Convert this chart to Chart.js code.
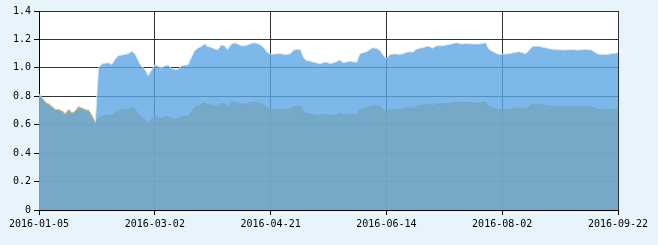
<!DOCTYPE html>
<html>
<head>
<meta charset="utf-8">
<script src="https://cdn.jsdelivr.net/npm/chart.js@4"></script>
<style>
  body { margin: 0; background: #e8f4fc; }
  canvas { display: block; }
</style>
</head>
<body>
<canvas id="navChart" width="658" height="245"></canvas>
<script>
// Trading-day holidays (incl. 2016-01-07, trading halted)
const holidays = ['2016-01-07', '2016-02-08', '2016-02-09', '2016-02-10', '2016-02-11', '2016-02-12',
    '2016-04-04', '2016-05-02', '2016-06-09', '2016-06-10', '2016-09-15', '2016-09-16'];

// Tick labels shown on the x axis
const tickDates = ['2016-01-05', '2016-03-02', '2016-04-21', '2016-06-14', '2016-08-02', '2016-09-22'];
const yTicks = [0, 0.2, 0.4, 0.6, 0.8, 1, 1.2, 1.4];

// Upper series (light blue)
const seriesTop = [
    0.81, 0.78, 0.75, 0.74, 0.72, 0.70, 0.70, 0.69, 0.67, 0.70, 0.675, 0.69, 0.72, 0.71, 0.70, 0.695, 0.655, 0.61,
    1.00, 1.027, 1.033, 1.036, 1.025, 1.06, 1.085, 1.09, 1.095, 1.10, 1.117, 1.10,
    1.05, 1.01, 0.99, 0.945, 0.985, 1.02, 1.013, 0.997, 1.015, 1.02, 0.997, 0.99, 0.99, 1.013, 1.02, 1.02,
    1.07, 1.12, 1.14, 1.15, 1.168, 1.15, 1.145, 1.135, 1.126, 1.16, 1.157, 1.13, 1.165, 1.177, 1.168, 1.157,
    1.155, 1.16, 1.17, 1.177, 1.172, 1.16, 1.14, 1.11,
    1.095, 1.097, 1.10, 1.10, 1.095, 1.095, 1.10, 1.126, 1.13, 1.13, 1.07, 1.05, 1.048, 1.04, 1.035, 1.027,
    1.04, 1.04, 1.03, 1.036, 1.045, 1.055, 1.036, 1.042, 1.048, 1.043, 1.039,
    1.10, 1.107, 1.114, 1.13, 1.142, 1.136, 1.125, 1.09, 1.067, 1.093, 1.098, 1.098, 1.095, 1.10, 1.11, 1.113,
    1.11, 1.13, 1.138, 1.142, 1.15, 1.152, 1.138, 1.155, 1.156, 1.156, 1.16, 1.165, 1.17, 1.177, 1.172, 1.168,
    1.172, 1.17, 1.168, 1.168, 1.168, 1.172, 1.177,
    1.13, 1.117, 1.105, 1.095, 1.097, 1.098, 1.10, 1.105, 1.11, 1.114, 1.108, 1.10, 1.12, 1.149, 1.153, 1.152,
    1.146, 1.143, 1.135, 1.132, 1.13, 1.128, 1.127, 1.126, 1.128, 1.13, 1.127, 1.126, 1.128, 1.13, 1.128, 1.126,
    1.11, 1.097, 1.095, 1.095, 1.095, 1.10, 1.102, 1.107
];

// Lower series (grey blue)
const seriesBottom = [
    0.81, 0.78, 0.75, 0.74, 0.72, 0.70, 0.70, 0.69, 0.67, 0.70, 0.675, 0.69, 0.72, 0.71, 0.70, 0.695, 0.655, 0.61,
    0.645, 0.662, 0.666, 0.668, 0.661, 0.684, 0.70, 0.703, 0.706, 0.71, 0.72, 0.71,
    0.677, 0.651, 0.639, 0.61, 0.635, 0.658, 0.653, 0.643, 0.655, 0.658, 0.643, 0.639, 0.639, 0.653, 0.658, 0.658,
    0.69, 0.722, 0.735, 0.742, 0.753, 0.742, 0.739, 0.732, 0.726, 0.748, 0.746, 0.729, 0.751, 0.759, 0.753, 0.746,
    0.745, 0.748, 0.755, 0.759, 0.756, 0.748, 0.735, 0.716,
    0.706, 0.708, 0.71, 0.71, 0.706, 0.706, 0.71, 0.726, 0.729, 0.729, 0.69, 0.677, 0.676, 0.671, 0.668, 0.662,
    0.671, 0.671, 0.664, 0.668, 0.674, 0.68, 0.668, 0.672, 0.676, 0.673, 0.67,
    0.71, 0.714, 0.719, 0.729, 0.737, 0.733, 0.726, 0.703, 0.688, 0.705, 0.708, 0.708, 0.706, 0.71, 0.716, 0.718,
    0.716, 0.729, 0.734, 0.737, 0.742, 0.743, 0.734, 0.745, 0.746, 0.746, 0.748, 0.751, 0.755, 0.759, 0.756, 0.753,
    0.756, 0.755, 0.753, 0.753, 0.753, 0.756, 0.759,
    0.729, 0.72, 0.713, 0.706, 0.708, 0.708, 0.71, 0.713, 0.716, 0.719, 0.715, 0.71, 0.722, 0.741, 0.744, 0.743,
    0.739, 0.737, 0.732, 0.73, 0.729, 0.728, 0.727, 0.726, 0.728, 0.729, 0.727, 0.726, 0.728, 0.729, 0.728, 0.726,
    0.716, 0.708, 0.706, 0.706, 0.706, 0.71, 0.711, 0.714
];

// Third series, only visible at the start (yellow edge)
const seriesYellow = [
    0.815, 0.785, 0.755, 0.745, 0.725, 0.705, 0.705, 0.695, 0.675, 0.705, 0.68, 0.695, 0.725, 0.715, 0.705, 0.70, 0.66, 0.615
];

// Build the list of trading days between the first and last tick
function tradingDays(start, end) {
    const days = [];
    const d = new Date(start + 'T00:00:00Z');
    const last = new Date(end + 'T00:00:00Z');
    while (d <= last) {
        const s = d.toISOString().slice(0, 10);
        const wd = d.getUTCDay();
        if (wd !== 0 && wd !== 6 && !holidays.includes(s)) days.push(s);
        d.setUTCDate(d.getUTCDate() + 1);
    }
    return days;
}

const labels = tradingDays(tickDates[0], tickDates[tickDates.length - 1]);

const isTick = (i) => tickDates.includes(labels[i]);

const backgroundPlugin = {
    id: 'background',
    beforeDraw(chart) {
        const { ctx, chartArea: a } = chart;
        ctx.save();
        ctx.fillStyle = '#e8f4fc';
        ctx.fillRect(0, 0, chart.width, chart.height);
        ctx.fillStyle = '#ffffff';
        ctx.fillRect(a.left, a.top, a.right - a.left, a.bottom - a.top);
        ctx.restore();
    }
};

const tickFont = { family: 'DejaVu Sans Mono', size: 10 };

new Chart(document.getElementById('navChart').getContext('2d'), {
    type: 'line',
    data: {
        labels: labels,
        datasets: [
            {
                data: seriesBottom,
                order: 1,
                fill: 'origin',
                backgroundColor: 'rgba(116,166,194,0.85)',
                borderColor: 'rgba(116,166,194,0.9)',
                borderWidth: 1,
                pointRadius: 0,
                tension: 0
            },
            {
                data: seriesTop,
                order: 2,
                fill: 'origin',
                backgroundColor: 'rgba(92,166,230,0.8)',
                borderColor: 'rgba(214,234,250,0.9)',
                borderWidth: 1,
                pointRadius: 0,
                tension: 0
            },
            {
                data: seriesYellow,
                order: 3,
                fill: false,
                borderColor: '#f2c46a',
                borderWidth: 1.5,
                pointRadius: 0,
                tension: 0
            }
        ]
    },
    options: {
        responsive: false,
        animation: false,
        layout: {
            autoPadding: false,
            padding: { left: 0, right: 40, top: 11, bottom: 0 }
        },
        plugins: {
            legend: { display: false },
            tooltip: { enabled: false }
        },
        scales: {
            x: {
                type: 'category',
                offset: false,
                grid: {
                    color: (c) => isTick(c.index) ? '#333333' : 'rgba(0,0,0,0)',
                    tickColor: (c) => isTick(c.index) ? '#000000' : 'rgba(0,0,0,0)',
                    tickLength: 5
                },
                border: { color: '#000000', width: 1 },
                ticks: {
                    autoSkip: false,
                    maxRotation: 0,
                    minRotation: 0,
                    color: '#000000',
                    font: tickFont,
                    padding: 3,
                    callback: (v, i) => isTick(i) ? labels[i] : ''
                },
                afterFit: (s) => { s.height = 35; }
            },
            y: {
                min: 0,
                max: 1.4,
                afterBuildTicks: (s) => { s.ticks = yTicks.map(v => ({ value: v })); },
                grid: { color: '#333333', tickColor: '#000000', tickLength: 5 },
                border: { color: '#000000', width: 1 },
                ticks: { color: '#000000', font: tickFont, padding: 3 },
                afterFit: (s) => { s.width = 39; }
            }
        }
    },
    plugins: [backgroundPlugin]
});
</script>
</body>
</html>
